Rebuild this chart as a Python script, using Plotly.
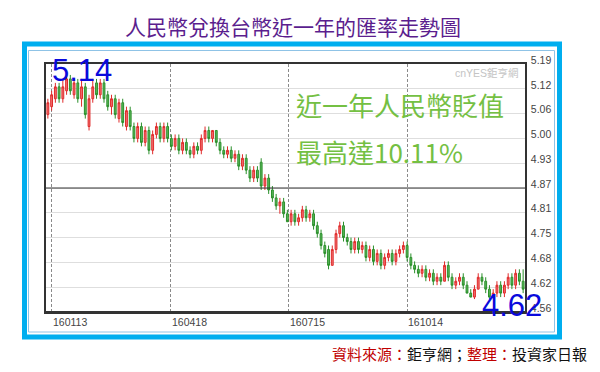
import plotly.graph_objects as go

# ---------------- data ----------------
open_ = [5.06, 5.08, 5.10, 5.13, 5.10, 5.12, 5.15, 5.11, 5.14, 5.10,
         5.13, 5.03, 5.10, 5.14, 5.11, 5.14, 5.11, 5.08, 5.10, 5.05,
         5.09, 5.03, 5.07, 5.03, 5.00, 5.03, 4.99, 5.02, 4.97, 5.01,
         5.03, 5.00, 5.03, 5.00, 4.98, 5.00, 4.97, 4.99, 4.97, 4.96,
         4.98, 4.97, 5.00, 5.02, 5.00, 5.02, 4.99, 4.97, 4.96, 4.97,
         4.95, 4.96, 4.93, 4.95, 4.92, 4.90, 4.92, 4.94, 4.88, 4.90,
         4.87, 4.85, 4.83, 4.84, 4.81, 4.79, 4.81, 4.79, 4.80, 4.82,
         4.80, 4.81, 4.78, 4.76, 4.73, 4.72, 4.68, 4.72, 4.76, 4.78,
         4.75, 4.74, 4.72, 4.74, 4.72, 4.73, 4.70, 4.72, 4.69, 4.71,
         4.68, 4.70, 4.71, 4.69, 4.71, 4.72, 4.73, 4.70, 4.68, 4.67,
         4.66, 4.67, 4.65, 4.66, 4.64, 4.65, 4.64, 4.68, 4.65, 4.63,
         4.64, 4.65, 4.63, 4.61, 4.60, 4.62, 4.65, 4.64, 4.62, 4.60,
         4.61, 4.63, 4.61, 4.63, 4.65, 4.63, 4.66, 4.64]
close = [5.09, 5.11, 5.13, 5.10, 5.13, 5.15, 5.12, 5.14, 5.10, 5.13,
         5.06, 5.10, 5.13, 5.11, 5.14, 5.10, 5.08, 5.10, 5.06, 5.09,
         5.04, 5.07, 5.03, 5.00, 5.03, 4.99, 5.02, 4.97, 5.01, 5.03,
         5.00, 5.03, 5.00, 4.98, 5.00, 4.97, 4.99, 4.97, 4.96, 4.98,
         4.97, 5.00, 5.02, 5.00, 5.02, 4.99, 4.97, 4.96, 4.97, 4.95,
         4.96, 4.93, 4.95, 4.92, 4.90, 4.92, 4.90, 4.88, 4.90, 4.87,
         4.85, 4.83, 4.84, 4.81, 4.79, 4.81, 4.79, 4.80, 4.82, 4.80,
         4.81, 4.78, 4.76, 4.73, 4.71, 4.68, 4.72, 4.76, 4.78, 4.75,
         4.74, 4.72, 4.74, 4.72, 4.73, 4.70, 4.72, 4.69, 4.71, 4.68,
         4.70, 4.71, 4.69, 4.71, 4.72, 4.73, 4.70, 4.68, 4.67, 4.66,
         4.67, 4.65, 4.66, 4.64, 4.65, 4.64, 4.68, 4.65, 4.63, 4.64,
         4.65, 4.63, 4.61, 4.60, 4.62, 4.65, 4.64, 4.62, 4.60, 4.61,
         4.63, 4.61, 4.63, 4.65, 4.63, 4.66, 4.64, 4.62]
high = [5.10, 5.12, 5.14, 5.14, 5.15, 5.16, 5.16, 5.15, 5.15, 5.15,
        5.14, 5.11, 5.15, 5.15, 5.15, 5.15, 5.12, 5.11, 5.11, 5.10,
        5.10, 5.08, 5.08, 5.04, 5.04, 5.04, 5.03, 5.03, 5.02, 5.04,
        5.04, 5.04, 5.04, 5.01, 5.01, 5.01, 5.00, 5.00, 4.98, 4.99,
        4.99, 5.01, 5.03, 5.03, 5.02, 5.02, 5.00, 4.98, 4.98, 4.98,
        4.97, 4.97, 4.96, 4.96, 4.93, 4.93, 4.93, 4.95, 4.91, 4.91,
        4.88, 4.86, 4.85, 4.85, 4.82, 4.82, 4.82, 4.81, 4.83, 4.83,
        4.82, 4.82, 4.79, 4.77, 4.74, 4.73, 4.73, 4.77, 4.79, 4.79,
        4.76, 4.75, 4.75, 4.75, 4.74, 4.74, 4.73, 4.73, 4.72, 4.72,
        4.71, 4.72, 4.72, 4.72, 4.73, 4.74, 4.74, 4.71, 4.69, 4.68,
        4.68, 4.68, 4.67, 4.67, 4.66, 4.66, 4.69, 4.69, 4.66, 4.65,
        4.66, 4.66, 4.64, 4.62, 4.63, 4.66, 4.66, 4.65, 4.63, 4.62,
        4.64, 4.64, 4.64, 4.66, 4.66, 4.67, 4.67, 4.67]
low = [5.05, 5.07, 5.09, 5.09, 5.09, 5.11, 5.11, 5.10, 5.09, 5.08,
       5.05, 5.02, 5.09, 5.10, 5.10, 5.09, 5.07, 5.06, 5.05, 5.04,
       5.03, 5.02, 5.02, 4.99, 4.99, 4.98, 4.98, 4.96, 4.96, 5.00,
       4.99, 4.99, 4.99, 4.97, 4.97, 4.96, 4.96, 4.96, 4.95, 4.95,
       4.96, 4.96, 4.99, 4.99, 4.99, 4.98, 4.96, 4.95, 4.95, 4.94,
       4.94, 4.92, 4.92, 4.91, 4.89, 4.89, 4.89, 4.87, 4.87, 4.86,
       4.84, 4.82, 4.81, 4.80, 4.79, 4.78, 4.78, 4.78, 4.79, 4.79,
       4.79, 4.77, 4.75, 4.72, 4.70, 4.67, 4.68, 4.71, 4.75, 4.74,
       4.73, 4.71, 4.71, 4.71, 4.71, 4.69, 4.69, 4.68, 4.68, 4.67,
       4.67, 4.69, 4.68, 4.68, 4.70, 4.71, 4.69, 4.67, 4.66, 4.65,
       4.65, 4.64, 4.64, 4.63, 4.63, 4.63, 4.64, 4.64, 4.62, 4.62,
       4.63, 4.62, 4.61, 4.60, 4.595, 4.62, 4.63, 4.61, 4.595, 4.595,
       4.60, 4.60, 4.60, 4.62, 4.62, 4.62, 4.63, 4.61]

x_idx = list(range(len(close)))

y_tickvals = [5.1875, 5.125, 5.0625, 5.0, 4.9375, 4.875, 4.8125, 4.75, 4.6875, 4.625, 4.5625]
y_ticktext = ['5.19', '5.12', '5.06', '5.00', '4.93', '4.87', '4.81', '4.75', '4.68', '4.62', '4.56']
x_tickvals = [1.1, 32.9, 64.4, 96.0]
x_ticktext = ['160113', '160418', '160715', '161014']

title_text = '人民幣兌換台幣近一年的匯率走勢圖'
note_line1 = '近一年人民幣貶值'
note_line2 = '最高達10.11%'
high_label = '5.14'
low_label = '4.62'

# ---------------- layout geometry ----------------
W, H = 600, 372
ML, MR, MT, MB = 46, 75, 64, 60
PW, PH = W - ML - MR, H - MT - MB


def px(x):
    return (x - ML) / PW


def py(y):
    return (H - MB - y) / PH


fig = go.Figure()
fig.add_trace(go.Candlestick(
    x=x_idx, open=open_, high=high, low=low, close=close,
    increasing=dict(line=dict(color='#e02a2a', width=1), fillcolor='#f07272'),
    decreasing=dict(line=dict(color='#2a8f2a', width=1), fillcolor='#5cb85c'),
    whiskerwidth=0, showlegend=False, hoverinfo='skip'))

shapes = []
shapes.append(dict(type='rect', xref='paper', yref='paper',
                   x0=px(24.5), x1=px(559.5), y0=py(337), y1=py(44),
                   line=dict(color='#00aeef', width=5), layer='below'))
shapes.append(dict(type='rect', xref='paper', yref='paper',
                   x0=px(28.5), x1=px(554.5), y0=py(332), y1=py(50.5),
                   line=dict(color='#8fc3e6', width=1), layer='below'))
shapes.append(dict(type='line', xref='paper', yref='y', x0=0, x1=1,
                   y0=4.875, y1=4.875, line=dict(color='#333333', width=1)))
shapes.append(dict(type='line', xref='paper', yref='paper', x0=0, x1=1,
                   y0=0, y1=0, line=dict(color='#333333', width=2)))

annotations = []
annotations.append(dict(text=title_text, xref='paper', yref='paper',
                        x=px(293), y=py(26), xanchor='center', yanchor='middle',
                        showarrow=False,
                        font=dict(family='Noto Sans CJK TC', size=21, color='#5b1e8e')))
for v, t in zip(x_tickvals, x_ticktext):
    annotations.append(dict(text=t, xref='x', yref='paper', x=v, y=0,
                            xanchor='left', yanchor='top', yshift=-2, xshift=-1,
                            showarrow=False,
                            font=dict(family='Liberation Sans', size=10.5, color='#444444')))
annotations.append(dict(text='cnYES鉅亨網', xref='paper', yref='paper',
                        x=px(521), y=py(73), xanchor='right', yanchor='middle',
                        showarrow=False,
                        font=dict(family='Liberation Sans, Noto Sans CJK TC', size=10.5, color='#c4c4c4')))
annotations.append(dict(text=note_line1, xref='paper', yref='paper',
                        x=px(294), y=py(104), xanchor='left', yanchor='middle',
                        showarrow=False,
                        font=dict(family='Noto Sans CJK TC', size=26, color='#74c043')))
annotations.append(dict(text=note_line2, xref='paper', yref='paper',
                        x=px(294), y=py(151), xanchor='left', yanchor='middle',
                        showarrow=False,
                        font=dict(family='Noto Sans CJK TC', size=26, color='#74c043')))
annotations.append(dict(text=high_label, xref='paper', yref='paper',
                        x=px(50), y=py(70), xanchor='left', yanchor='middle',
                        showarrow=False,
                        font=dict(family='Liberation Sans', size=31, color='#0a0adc')))
annotations.append(dict(text=low_label, xref='paper', yref='paper',
                        x=px(480), y=py(305), xanchor='left', yanchor='middle',
                        showarrow=False,
                        font=dict(family='Liberation Sans', size=31, color='#0a0adc')))
annotations.append(dict(
    text=('<span style="color:#c00000">資料來源：</span>鉅亨網；'
          '<span style="color:#c00000">整理：</span>投資家日報'),
    xref='paper', yref='paper', x=px(589), y=py(353),
    xanchor='right', yanchor='middle', showarrow=False,
    font=dict(family='Noto Sans CJK TC', size=15, color='#111111')))

fig.update_layout(
    width=W, height=H,
    margin=dict(l=ML, r=MR, t=MT, b=MB, pad=0),
    paper_bgcolor='white', plot_bgcolor='white',
    shapes=shapes, annotations=annotations,
    xaxis=dict(range=[-0.5, len(close) - 0.5], tickvals=x_tickvals,
               showticklabels=False, ticks='', showgrid=True,
               gridcolor='#8a8a8a', gridwidth=1, griddash='3px,2px',
               zeroline=False, showline=True, mirror=True,
               linecolor='#333333', linewidth=1.5,
               rangeslider=dict(visible=False), fixedrange=True),
    yaxis=dict(range=[4.5624, 5.1876], side='right', tickvals=y_tickvals,
               ticktext=y_ticktext, ticks='', showgrid=True,
               gridcolor='#dedede', gridwidth=1, zeroline=False,
               showline=True, mirror=True, linecolor='#333333', linewidth=1.5,
               ticklabelstandoff=2, ticklabelshift=-4,
               tickfont=dict(family='Liberation Sans', size=10.5, color='#444444'),
               fixedrange=True),
)

fig.write_html('out.html')
